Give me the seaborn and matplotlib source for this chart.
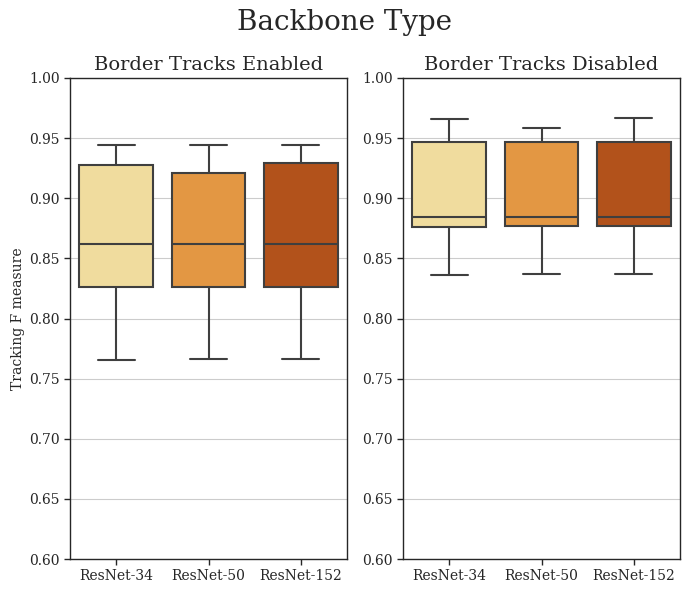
import numpy as np
import pandas as pd
import matplotlib
matplotlib.use("Agg")
import matplotlib.pyplot as plt
import seaborn as sns

# backbones on the x axis
backbones = ["ResNet-34", "ResNet-50", "ResNet-152"]

# five-number summaries: low whisker, Q1, median, Q3, high whisker
enabled_r34 = [0.7655, 0.826, 0.862, 0.928, 0.944]
enabled_r50 = [0.7666, 0.826, 0.862, 0.921, 0.944]
enabled_r152 = [0.7666, 0.826, 0.862, 0.929, 0.944]

disabled_r34 = [0.8364, 0.8763, 0.8847, 0.947, 0.966]
disabled_r50 = [0.8373, 0.8772, 0.8847, 0.947, 0.9584]
disabled_r152 = [0.8373, 0.8772, 0.8847, 0.947, 0.9667]

sns.set_theme(style="ticks")
plt.rcParams["font.family"] = ["DejaVu Serif"]
plt.rcParams["axes.linewidth"] = 1.0
plt.rcParams["xtick.major.width"] = 1.0
plt.rcParams["ytick.major.width"] = 1.0
plt.rcParams["xtick.major.size"] = 4
plt.rcParams["ytick.major.size"] = 4

def long_df(vals):
    rows = []
    for name, v in zip(backbones, vals):
        for x in v:
            rows.append({"backbone": name, "f": x})
    return pd.DataFrame(rows)

df_en = long_df([enabled_r34, enabled_r50, enabled_r152])
df_dis = long_df([disabled_r34, disabled_r50, disabled_r152])

fig, axes = plt.subplots(1, 2, figsize=(6.89, 5.93), dpi=100)
plt.subplots_adjust(left=0.1016, right=0.987, top=0.8685, bottom=0.0573, wspace=0.202)

pal = sns.color_palette("YlOrBr", 3)
for ax, d, title in zip(axes, [df_en, df_dis],
                        ["Border Tracks Enabled", "Border Tracks Disabled"]):
    ax.yaxis.grid(True, color="#cccccc", linewidth=0.8)
    ax.set_axisbelow(True)
    sns.boxplot(x="backbone", y="f", data=d, hue="backbone", palette=pal, legend=False,
                ax=ax, whis=np.inf, width=0.8, linecolor="#3f3f3f", linewidth=1.5,
                saturation=0.75, order=backbones)
    ax.set_ylim(0.60, 1.00)
    ax.set_yticks(np.arange(0.60, 1.001, 0.05))
    ax.set_yticklabels([f"{t:.2f}" for t in np.arange(0.60, 1.001, 0.05)], fontsize=10)
    ax.tick_params(axis="x", labelsize=10)
    ax.set_xlabel("")
    ax.set_ylabel("")
    ax.set_title(title, fontsize=14)

axes[0].set_ylabel("Tracking F measure", fontsize=10, labelpad=3)
fig.suptitle("Backbone Type", fontsize=20, y=0.985)

plt.savefig("out.png", dpi=100)
